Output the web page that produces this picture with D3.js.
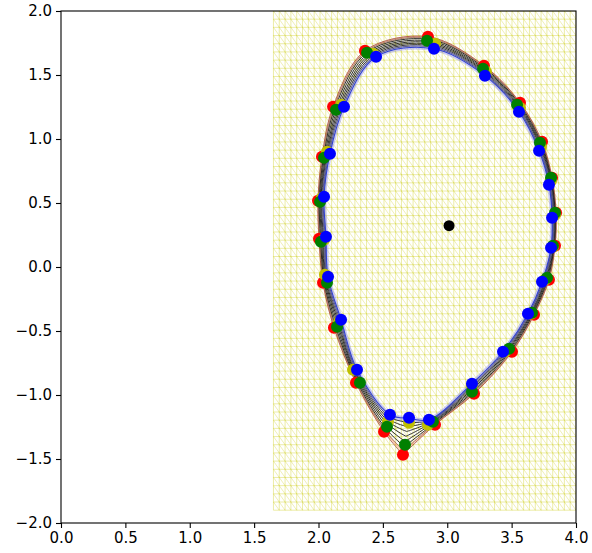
<!DOCTYPE html>
<html>
<head>
<meta charset="utf-8">
<script src="https://cdn.jsdelivr.net/npm/d3@7"></script>
<style>
  html, body { margin: 0; padding: 0; background: #fff; }
  svg { display: block; }
  text { font-family: "DejaVu Sans", sans-serif; }
</style>
</head>
<body>
<svg id="chart" width="592" height="553"></svg>
<script>
// ---- data (R, Z) ----
const xTicks = [0.0, 0.5, 1.0, 1.5, 2.0, 2.5, 3.0, 3.5, 4.0];
const yTicks = [-2.0, -1.5, -1.0, -0.5, 0.0, 0.5, 1.0, 1.5, 2.0];

// computational mesh extents and node counts
const meshR = [1.65, 4.0];
const meshZ = [-1.9, 2.0];
const meshNR = 53;
const meshNZ = 62;

const redPts = [
  [2.361, 1.690], [2.850, 1.799], [3.285, 1.573], [3.565, 1.284], [3.736, 0.979],
  [3.814, 0.698], [3.845, 0.424], [3.837, 0.166], [3.790, -0.099], [3.674, -0.373],
  [3.503, -0.662], [3.208, -0.990], [2.905, -1.232], [2.656, -1.467], [2.509, -1.287],
  [2.291, -0.904], [2.120, -0.474], [2.035, -0.123], [2.004, 0.221], [1.996, 0.518],
  [2.027, 0.862], [2.113, 1.252]
];
const yellowPts = [
  [2.423, 1.666], [2.905, 1.744], [3.301, 1.526], [3.565, 1.244], [3.728, 0.940],
  [3.806, 0.674], [3.837, 0.409], [3.821, 0.159], [3.759, -0.099], [3.650, -0.365],
  [3.449, -0.662], [3.192, -0.928], [2.850, -1.232], [2.703, -1.217], [2.540, -1.209],
  [2.268, -0.803], [2.159, -0.428], [2.050, -0.060], [2.043, 0.213], [2.027, 0.541],
  [2.066, 0.900], [2.175, 1.267]
];
const greenPts = [
  [2.377, 1.674], [2.843, 1.768], [3.278, 1.549], [3.542, 1.268], [3.720, 0.971],
  [3.806, 0.698], [3.837, 0.424], [3.821, 0.166], [3.775, -0.084], [3.658, -0.358],
  [3.480, -0.639], [3.192, -0.975], [2.889, -1.209], [2.672, -1.388], [2.532, -1.248],
  [2.322, -0.904], [2.144, -0.467], [2.066, -0.123], [2.019, 0.198], [2.012, 0.510],
  [2.043, 0.854], [2.136, 1.229]
];
const bluePts = [
  [2.447, 1.643], [2.897, 1.705], [3.293, 1.495], [3.557, 1.213], [3.713, 0.909],
  [3.790, 0.643], [3.814, 0.385], [3.806, 0.151], [3.736, -0.115], [3.627, -0.365],
  [3.433, -0.662], [3.192, -0.912], [2.858, -1.193], [2.703, -1.178], [2.555, -1.154],
  [2.299, -0.803], [2.175, -0.412], [2.074, -0.076], [2.058, 0.237], [2.043, 0.549],
  [2.089, 0.885], [2.198, 1.252]
];
const axisPt = [3.014, 0.323];
const xPointIndex = 13;
// fractional positions of the flux contours between the outer (red) and inner (blue) boundary
const contourLevels = [0.22, 0.36, 0.5, 0.63, 0.76, 0.88];

// ---- layout ----
const svg = d3.select("#chart");
const L = 61, R = 576, T = 11, B = 523;
const x = d3.scaleLinear().domain([0, 4]).range([L, R]);
const y = d3.scaleLinear().domain([-2, 2]).range([B, T]);

svg.append("defs").append("clipPath").attr("id", "clip")
  .append("rect").attr("x", L).attr("y", T).attr("width", R - L).attr("height", B - T);
const plot = svg.append("g").attr("clip-path", "url(#clip)");

// ---- mesh ----
const rs = d3.range(meshNR).map(i => meshR[0] + (meshR[1] - meshR[0]) * i / (meshNR - 1));
const zs = d3.range(meshNZ).map(j => meshZ[0] + (meshZ[1] - meshZ[0]) * j / (meshNZ - 1));
const hp = d3.path(), dp = d3.path();
zs.forEach(z => { hp.moveTo(x(rs[0]), y(z)); hp.lineTo(x(rs[rs.length - 1]), y(z)); });
rs.forEach(r => { hp.moveTo(x(r), y(zs[0])); hp.lineTo(x(r), y(zs[zs.length - 1])); });
for (let i = 0; i < rs.length - 1; i++) {
  for (let j = 0; j < zs.length - 1; j++) {
    dp.moveTo(x(rs[i]), y(zs[j + 1]));
    dp.lineTo(x(rs[i + 1]), y(zs[j]));
  }
}
plot.append("path").attr("d", dp.toString())
  .attr("fill", "none").attr("stroke", "#c8c800")
  .attr("stroke-width", 0.7).attr("stroke-opacity", 0.42);
plot.append("path").attr("d", hp.toString())
  .attr("fill", "none").attr("stroke", "#c8c800")
  .attr("stroke-width", 0.7).attr("stroke-opacity", 0.5);

// ---- contours ----
const rot = pts => pts.slice(xPointIndex).concat(pts.slice(0, xPointIndex + 1));
const line = d3.line().x(d => x(d[0])).y(d => y(d[1])).curve(d3.curveCatmullRom.alpha(0.5));
const mix = t => redPts.map((p, i) => [p[0] + (bluePts[i][0] - p[0]) * t, p[1] + (bluePts[i][1] - p[1]) * t]);

plot.append("path").attr("d", line(rot(mix(0.08))))
  .attr("fill", "none").attr("stroke", "#ff6a50").attr("stroke-width", 2.2).attr("stroke-opacity", 0.35);
plot.append("path").attr("d", line(rot(redPts)))
  .attr("fill", "none").attr("stroke", "#8a2a1a").attr("stroke-width", 0.8).attr("stroke-opacity", 0.8);
plot.append("path").attr("d", line(rot(mix(0.11))))
  .attr("fill", "none").attr("stroke", "#6a4a3a").attr("stroke-width", 0.7).attr("stroke-opacity", 0.8);
contourLevels.forEach(t => {
  plot.append("path").attr("d", line(rot(mix(t))))
    .attr("fill", "none").attr("stroke", "#1a1a1a").attr("stroke-width", 0.9);
});
plot.append("path").attr("d", line(rot(bluePts)))
  .attr("fill", "none").attr("stroke", "#8c8cf0").attr("stroke-width", 4.5).attr("stroke-opacity", 0.45);
plot.append("path").attr("d", line(rot(bluePts)))
  .attr("fill", "none").attr("stroke", "#3040d0").attr("stroke-width", 1.1);

// ---- points ----
const sets = [[redPts, "#ff0000"], [yellowPts, "#bfbf00"], [greenPts, "#008000"], [bluePts, "#0000ff"]];
sets.forEach(([pts, c]) => {
  plot.append("g").selectAll("circle").data(pts).join("circle")
    .attr("cx", d => x(d[0])).attr("cy", d => y(d[1])).attr("r", 6).attr("fill", c);
});
plot.append("circle").attr("cx", x(axisPt[0])).attr("cy", y(axisPt[1])).attr("r", 5.5).attr("fill", "#000");

// ---- axes ----
const fmt = d3.format(".1f");
const gx = svg.append("g").attr("transform", `translate(0,${B})`)
  .call(d3.axisBottom(x).tickValues(xTicks).tickFormat(fmt).tickSize(5).tickPadding(4));
const gy = svg.append("g").attr("transform", `translate(${L},0)`)
  .call(d3.axisLeft(y).tickValues(yTicks).tickFormat(fmt).tickSize(5).tickPadding(4));
[gx, gy].forEach(g => {
  g.select(".domain").remove();
  g.selectAll("line").attr("stroke", "#000").attr("stroke-width", 1.1);
  g.selectAll("text").attr("fill", "#000").style("font-size", "15px").style("font-family", "DejaVu Sans");
});
svg.append("rect").attr("x", L).attr("y", T).attr("width", R - L).attr("height", B - T)
  .attr("fill", "none").attr("stroke", "#000").attr("stroke-width", 1.1);
</script>
</body>
</html>
